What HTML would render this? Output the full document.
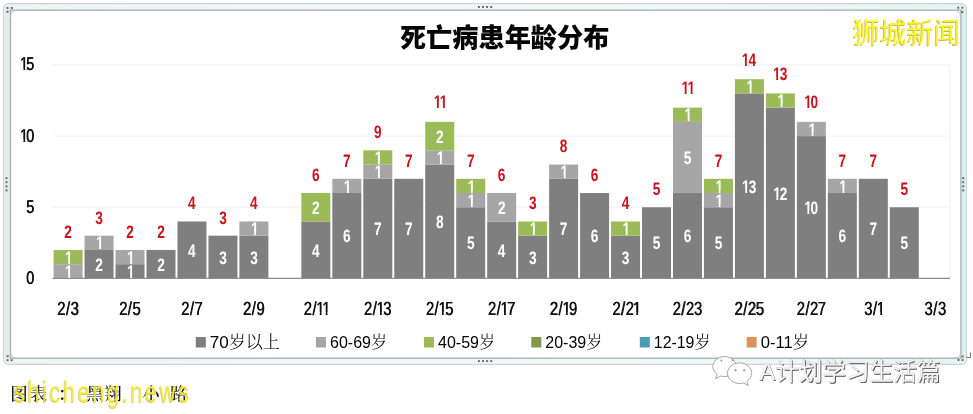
<!DOCTYPE html>
<html lang="zh"><head><meta charset="utf-8"><title>死亡病患年龄分布</title>
<style>
html,body{margin:0;padding:0;background:#fff;}
body{width:973px;height:414px;overflow:hidden;position:relative;font-family:"Liberation Sans","Noto Sans CJK SC",sans-serif;}
svg{position:absolute;left:0;top:0;display:block;}
svg text{font-family:"Liberation Sans","Noto Sans CJK SC",sans-serif;}
svg .n{text-rendering:geometricPrecision;}
svg .kai{font-family:"Liberation Serif","Noto Serif CJK SC",serif;font-weight:500;}
svg .lg{font-family:"Liberation Serif","Noto Serif CJK SC",serif;font-weight:300;}
</style></head><body>
<svg width="973" height="414" viewBox="0 0 973 414">
<defs>
<clipPath id="k1_18mb"><path clip-rule="evenodd" d="M-60 -30H60V12H-60ZM-4.31 -2.74H0.25V1.44H-4.31ZM2.72 -2.74H6.49V1.44H2.72Z"/></clipPath>
<clipPath id="k11_18mb"><path clip-rule="evenodd" d="M-60 -30H60V12H-60ZM-8.28 -2.74H-3.72V1.44H-8.28ZM-1.25 -2.74H-0.34V1.44H-1.25ZM-0.34 -2.74H4.22V1.44H-0.34ZM6.69 -2.74H10.46V1.44H6.69Z"/></clipPath>
<clipPath id="k13_18mb"><path clip-rule="evenodd" d="M-60 -30H60V12H-60ZM-10.02 -2.74H-5.46V1.44H-10.02ZM-2.99 -2.74H-0.39V1.44H-2.99Z"/></clipPath>
<clipPath id="k14_18mb"><path clip-rule="evenodd" d="M-60 -30H60V12H-60ZM-10.38 -2.74H-5.81V1.44H-10.38ZM-3.34 -2.74H-0.84V1.44H-3.34Z"/></clipPath>
<clipPath id="k12_18mb"><path clip-rule="evenodd" d="M-60 -30H60V12H-60ZM-9.88 -2.74H-5.32V1.44H-9.88ZM-2.85 -2.74H-0.35V1.44H-2.85Z"/></clipPath>
<clipPath id="k10_18mb"><path clip-rule="evenodd" d="M-60 -30H60V12H-60ZM-9.83 -2.74H-5.27V1.44H-9.83ZM-2.80 -2.74H0.14V1.44H-2.80Z"/></clipPath>
<clipPath id="k10_18p5er"><path clip-rule="evenodd" d="M-60 -30H60V12H-60ZM-17.92 -2.31H-12.90V1.48H-17.92ZM-11.26 -2.31H-8.14V1.48H-11.26Z"/></clipPath>
<clipPath id="k15_18p5er"><path clip-rule="evenodd" d="M-60 -30H60V12H-60ZM-17.84 -2.31H-12.82V1.48H-17.84ZM-11.19 -2.31H-8.60V1.48H-11.19Z"/></clipPath>
<clipPath id="k2s11_19mr"><path clip-rule="evenodd" d="M-60 -30H60V12H-60ZM0.18 -2.37H5.34V1.52H0.18ZM7.02 -2.37H7.76V1.52H7.02ZM7.76 -2.37H12.92V1.52H7.76ZM14.60 -2.37H19.16V1.52H14.60Z"/></clipPath>
<clipPath id="k2s13_19mr"><path clip-rule="evenodd" d="M-60 -30H60V12H-60ZM-2.00 -2.37H3.16V1.52H-2.00ZM4.84 -2.37H8.02V1.52H4.84Z"/></clipPath>
<clipPath id="k2s15_19mr"><path clip-rule="evenodd" d="M-60 -30H60V12H-60ZM-2.00 -2.37H3.16V1.52H-2.00ZM4.84 -2.37H7.94V1.52H4.84Z"/></clipPath>
<clipPath id="k2s17_19mr"><path clip-rule="evenodd" d="M-60 -30H60V12H-60ZM-1.82 -2.37H3.34V1.52H-1.82ZM5.02 -2.37H9.58V1.52H5.02Z"/></clipPath>
<clipPath id="k2s19_19mr"><path clip-rule="evenodd" d="M-60 -30H60V12H-60ZM-1.88 -2.37H3.27V1.52H-1.88ZM4.95 -2.37H8.23V1.52H4.95Z"/></clipPath>
<clipPath id="k2s21_19mr"><path clip-rule="evenodd" d="M-60 -30H60V12H-60ZM9.80 -2.37H14.16V1.52H9.80ZM15.83 -2.37H20.40V1.52H15.83Z"/></clipPath>
<clipPath id="k3s1_19mr"><path clip-rule="evenodd" d="M-60 -30H60V12H-60ZM4.14 -2.37H9.30V1.52H4.14ZM10.98 -2.37H15.54V1.52H10.98Z"/></clipPath>
<linearGradient id="band" x1="0" x2="1" y1="0" y2="0">
<stop offset="0" stop-color="#eef3f3"/><stop offset="0.5" stop-color="#f4f8f8"/><stop offset="0.8" stop-color="#edf7f6"/><stop offset="1" stop-color="#e2f4f3"/>
</linearGradient>
</defs>
<rect width="973" height="414" fill="#ffffff"/>
<!-- frame -->
<rect x="3.5" y="3.7" width="963" height="360.6" rx="5" ry="5" fill="url(#band)" stroke="#cbd6d7" stroke-width="1.2"/>
<rect x="4.2" y="9" width="6" height="350" fill="#e3ebeb"/>
<rect x="961" y="9" width="5" height="350" fill="#d8f0ef"/>
<rect x="10.5" y="10.2" width="950.4" height="348" fill="#ffffff" stroke="#a6adae" stroke-width="1.3"/>
<path d="M10.5 17 Q11 10.7 17 10.2 M954 10.2 Q960.4 10.7 960.9 17 M960.9 351.5 Q960.4 357.7 954 358.2 M17 358.2 Q11 357.7 10.5 351.5" fill="none" stroke="#c2c9ca" stroke-width="1"/>
<path d="M970.5 352.5 V357.5 H966.5" fill="none" stroke="#777" stroke-width="1"/>
<!-- title -->
<text x="504.7" y="47" text-anchor="middle" font-size="26.2" font-weight="900" fill="#050505">死亡病患年龄分布</text>
<line x1="52.6" x2="950" y1="207.2" y2="207.2" stroke="#f1f1f1" stroke-width="1"/>
<line x1="52.6" x2="950" y1="136.1" y2="136.1" stroke="#f1f1f1" stroke-width="1"/>
<line x1="52.6" x2="950" y1="64.9" y2="64.9" stroke="#f1f1f1" stroke-width="1"/>
<line x1="950" x2="950" y1="64.9" y2="278.4" stroke="#f1f1f1" stroke-width="1"/>
<rect x="53.59" y="264.17" width="29.0" height="14.23" fill="#a6a6a6"/>
<rect x="53.59" y="249.94" width="29.0" height="14.23" fill="#9bbb59"/>
<rect x="84.55" y="249.94" width="29.0" height="28.46" fill="#7f7f7f"/>
<rect x="84.55" y="235.71" width="29.0" height="14.23" fill="#a6a6a6"/>
<rect x="115.52" y="264.17" width="29.0" height="14.23" fill="#7f7f7f"/>
<rect x="115.52" y="249.94" width="29.0" height="14.23" fill="#a6a6a6"/>
<rect x="146.50" y="249.94" width="29.0" height="28.46" fill="#7f7f7f"/>
<rect x="177.46" y="221.48" width="29.0" height="56.92" fill="#7f7f7f"/>
<rect x="208.44" y="235.71" width="29.0" height="42.69" fill="#7f7f7f"/>
<rect x="239.40" y="235.71" width="29.0" height="42.69" fill="#7f7f7f"/>
<rect x="239.40" y="221.48" width="29.0" height="14.23" fill="#a6a6a6"/>
<rect x="301.35" y="221.48" width="29.0" height="56.92" fill="#7f7f7f"/>
<rect x="301.35" y="193.02" width="29.0" height="28.46" fill="#9bbb59"/>
<rect x="332.32" y="193.02" width="29.0" height="85.38" fill="#7f7f7f"/>
<rect x="332.32" y="178.79" width="29.0" height="14.23" fill="#a6a6a6"/>
<rect x="363.29" y="178.79" width="29.0" height="99.61" fill="#7f7f7f"/>
<rect x="363.29" y="164.56" width="29.0" height="14.23" fill="#a6a6a6"/>
<rect x="363.29" y="150.33" width="29.0" height="14.23" fill="#9bbb59"/>
<rect x="394.25" y="178.79" width="29.0" height="99.61" fill="#7f7f7f"/>
<rect x="425.23" y="164.56" width="29.0" height="113.84" fill="#7f7f7f"/>
<rect x="425.23" y="150.33" width="29.0" height="14.23" fill="#a6a6a6"/>
<rect x="425.23" y="121.87" width="29.0" height="28.46" fill="#9bbb59"/>
<rect x="456.20" y="207.25" width="29.0" height="71.15" fill="#7f7f7f"/>
<rect x="456.20" y="193.02" width="29.0" height="14.23" fill="#a6a6a6"/>
<rect x="456.20" y="178.79" width="29.0" height="14.23" fill="#9bbb59"/>
<rect x="487.17" y="221.48" width="29.0" height="56.92" fill="#7f7f7f"/>
<rect x="487.17" y="193.02" width="29.0" height="28.46" fill="#a6a6a6"/>
<rect x="518.13" y="235.71" width="29.0" height="42.69" fill="#7f7f7f"/>
<rect x="518.13" y="221.48" width="29.0" height="14.23" fill="#9bbb59"/>
<rect x="549.11" y="178.79" width="29.0" height="99.61" fill="#7f7f7f"/>
<rect x="549.11" y="164.56" width="29.0" height="14.23" fill="#a6a6a6"/>
<rect x="580.08" y="193.02" width="29.0" height="85.38" fill="#7f7f7f"/>
<rect x="611.05" y="235.71" width="29.0" height="42.69" fill="#7f7f7f"/>
<rect x="611.05" y="221.48" width="29.0" height="14.23" fill="#9bbb59"/>
<rect x="642.01" y="207.25" width="29.0" height="71.15" fill="#7f7f7f"/>
<rect x="672.99" y="193.02" width="29.0" height="85.38" fill="#7f7f7f"/>
<rect x="672.99" y="121.87" width="29.0" height="71.15" fill="#a6a6a6"/>
<rect x="672.99" y="107.64" width="29.0" height="14.23" fill="#9bbb59"/>
<rect x="703.96" y="207.25" width="29.0" height="71.15" fill="#7f7f7f"/>
<rect x="703.96" y="193.02" width="29.0" height="14.23" fill="#a6a6a6"/>
<rect x="703.96" y="178.79" width="29.0" height="14.23" fill="#9bbb59"/>
<rect x="734.92" y="93.41" width="29.0" height="184.99" fill="#7f7f7f"/>
<rect x="734.92" y="79.18" width="29.0" height="14.23" fill="#9bbb59"/>
<rect x="765.89" y="107.64" width="29.0" height="170.76" fill="#7f7f7f"/>
<rect x="765.89" y="93.41" width="29.0" height="14.23" fill="#9bbb59"/>
<rect x="796.87" y="136.10" width="29.0" height="142.30" fill="#7f7f7f"/>
<rect x="796.87" y="121.87" width="29.0" height="14.23" fill="#a6a6a6"/>
<rect x="827.84" y="193.02" width="29.0" height="85.38" fill="#7f7f7f"/>
<rect x="827.84" y="178.79" width="29.0" height="14.23" fill="#a6a6a6"/>
<rect x="858.81" y="178.79" width="29.0" height="99.61" fill="#7f7f7f"/>
<rect x="889.77" y="207.25" width="29.0" height="71.15" fill="#7f7f7f"/>
<line x1="52.6" x2="950" y1="278.29999999999995" y2="278.29999999999995" stroke="#8c8c8c" stroke-width="1.3"/>
<text class="n" transform="translate(68.09 277.88) scale(0.76 1)" x="-3.95" font-size="18" font-weight="bold" fill="#ffffff" clip-path="url(#k1_18mb)">1</text>
<text class="n" transform="translate(68.09 263.65) scale(0.76 1)" x="-3.95" font-size="18" font-weight="bold" fill="#ffffff" clip-path="url(#k1_18mb)">1</text>
<text class="n" transform="translate(99.05 270.77) scale(0.76 1)" x="-4.95" font-size="18" font-weight="bold" fill="#ffffff">2</text>
<text class="n" transform="translate(99.05 249.42) scale(0.76 1)" x="-3.95" font-size="18" font-weight="bold" fill="#ffffff" clip-path="url(#k1_18mb)">1</text>
<text class="n" transform="translate(130.02 277.88) scale(0.76 1)" x="-3.95" font-size="18" font-weight="bold" fill="#ffffff" clip-path="url(#k1_18mb)">1</text>
<text class="n" transform="translate(130.02 263.65) scale(0.76 1)" x="-3.95" font-size="18" font-weight="bold" fill="#ffffff" clip-path="url(#k1_18mb)">1</text>
<text class="n" transform="translate(161.00 270.77) scale(0.76 1)" x="-4.95" font-size="18" font-weight="bold" fill="#ffffff">2</text>
<text class="n" transform="translate(191.96 256.54) scale(0.76 1)" x="-5.08" font-size="18" font-weight="bold" fill="#ffffff">4</text>
<text class="n" transform="translate(222.94 263.65) scale(0.76 1)" x="-4.88" font-size="18" font-weight="bold" fill="#ffffff">3</text>
<text class="n" transform="translate(253.90 263.65) scale(0.76 1)" x="-4.88" font-size="18" font-weight="bold" fill="#ffffff">3</text>
<text class="n" transform="translate(253.90 235.19) scale(0.76 1)" x="-3.95" font-size="18" font-weight="bold" fill="#ffffff" clip-path="url(#k1_18mb)">1</text>
<text class="n" transform="translate(315.85 256.54) scale(0.76 1)" x="-5.08" font-size="18" font-weight="bold" fill="#ffffff">4</text>
<text class="n" transform="translate(315.85 213.85) scale(0.76 1)" x="-4.95" font-size="18" font-weight="bold" fill="#ffffff">2</text>
<text class="n" transform="translate(346.82 242.31) scale(0.76 1)" x="-5.00" font-size="18" font-weight="bold" fill="#ffffff">6</text>
<text class="n" transform="translate(346.82 192.50) scale(0.76 1)" x="-3.95" font-size="18" font-weight="bold" fill="#ffffff" clip-path="url(#k1_18mb)">1</text>
<text class="n" transform="translate(377.79 235.19) scale(0.76 1)" x="-4.99" font-size="18" font-weight="bold" fill="#ffffff">7</text>
<text class="n" transform="translate(377.79 178.27) scale(0.76 1)" x="-3.95" font-size="18" font-weight="bold" fill="#ffffff" clip-path="url(#k1_18mb)">1</text>
<text class="n" transform="translate(377.79 164.04) scale(0.76 1)" x="-3.95" font-size="18" font-weight="bold" fill="#ffffff" clip-path="url(#k1_18mb)">1</text>
<text class="n" transform="translate(408.75 235.19) scale(0.76 1)" x="-4.99" font-size="18" font-weight="bold" fill="#ffffff">7</text>
<text class="n" transform="translate(439.73 228.08) scale(0.76 1)" x="-5.00" font-size="18" font-weight="bold" fill="#ffffff">8</text>
<text class="n" transform="translate(439.73 164.04) scale(0.76 1)" x="-3.95" font-size="18" font-weight="bold" fill="#ffffff" clip-path="url(#k1_18mb)">1</text>
<text class="n" transform="translate(439.73 142.70) scale(0.76 1)" x="-4.95" font-size="18" font-weight="bold" fill="#ffffff">2</text>
<text class="n" transform="translate(470.70 249.42) scale(0.76 1)" x="-5.02" font-size="18" font-weight="bold" fill="#ffffff">5</text>
<text class="n" transform="translate(470.70 206.73) scale(0.76 1)" x="-3.95" font-size="18" font-weight="bold" fill="#ffffff" clip-path="url(#k1_18mb)">1</text>
<text class="n" transform="translate(470.70 192.50) scale(0.76 1)" x="-3.95" font-size="18" font-weight="bold" fill="#ffffff" clip-path="url(#k1_18mb)">1</text>
<text class="n" transform="translate(501.67 256.54) scale(0.76 1)" x="-5.08" font-size="18" font-weight="bold" fill="#ffffff">4</text>
<text class="n" transform="translate(501.67 213.85) scale(0.76 1)" x="-4.95" font-size="18" font-weight="bold" fill="#ffffff">2</text>
<text class="n" transform="translate(532.63 263.65) scale(0.76 1)" x="-4.88" font-size="18" font-weight="bold" fill="#ffffff">3</text>
<text class="n" transform="translate(532.63 235.19) scale(0.76 1)" x="-3.95" font-size="18" font-weight="bold" fill="#ffffff" clip-path="url(#k1_18mb)">1</text>
<text class="n" transform="translate(563.61 235.19) scale(0.76 1)" x="-4.99" font-size="18" font-weight="bold" fill="#ffffff">7</text>
<text class="n" transform="translate(563.61 178.27) scale(0.76 1)" x="-3.95" font-size="18" font-weight="bold" fill="#ffffff" clip-path="url(#k1_18mb)">1</text>
<text class="n" transform="translate(594.58 242.31) scale(0.76 1)" x="-5.00" font-size="18" font-weight="bold" fill="#ffffff">6</text>
<text class="n" transform="translate(625.55 263.65) scale(0.76 1)" x="-4.88" font-size="18" font-weight="bold" fill="#ffffff">3</text>
<text class="n" transform="translate(625.55 235.19) scale(0.76 1)" x="-3.95" font-size="18" font-weight="bold" fill="#ffffff" clip-path="url(#k1_18mb)">1</text>
<text class="n" transform="translate(656.51 249.42) scale(0.76 1)" x="-5.02" font-size="18" font-weight="bold" fill="#ffffff">5</text>
<text class="n" transform="translate(687.49 242.31) scale(0.76 1)" x="-5.00" font-size="18" font-weight="bold" fill="#ffffff">6</text>
<text class="n" transform="translate(687.49 164.04) scale(0.76 1)" x="-5.02" font-size="18" font-weight="bold" fill="#ffffff">5</text>
<text class="n" transform="translate(687.49 121.35) scale(0.76 1)" x="-3.95" font-size="18" font-weight="bold" fill="#ffffff" clip-path="url(#k1_18mb)">1</text>
<text class="n" transform="translate(718.46 249.42) scale(0.76 1)" x="-5.02" font-size="18" font-weight="bold" fill="#ffffff">5</text>
<text class="n" transform="translate(718.46 206.73) scale(0.76 1)" x="-3.95" font-size="18" font-weight="bold" fill="#ffffff" clip-path="url(#k1_18mb)">1</text>
<text class="n" transform="translate(718.46 192.50) scale(0.76 1)" x="-3.95" font-size="18" font-weight="bold" fill="#ffffff" clip-path="url(#k1_18mb)">1</text>
<text class="n" transform="translate(749.42 192.50) scale(0.76 1)" x="-9.66 -0.91" font-size="18" font-weight="bold" fill="#ffffff" clip-path="url(#k13_18mb)">13</text>
<text class="n" transform="translate(749.42 92.89) scale(0.76 1)" x="-3.95" font-size="18" font-weight="bold" fill="#ffffff" clip-path="url(#k1_18mb)">1</text>
<text class="n" transform="translate(780.39 199.62) scale(0.76 1)" x="-9.52 -0.98" font-size="18" font-weight="bold" fill="#ffffff" clip-path="url(#k12_18mb)">12</text>
<text class="n" transform="translate(780.39 107.12) scale(0.76 1)" x="-3.95" font-size="18" font-weight="bold" fill="#ffffff" clip-path="url(#k1_18mb)">1</text>
<text class="n" transform="translate(811.37 213.85) scale(0.76 1)" x="-9.47 -1.02" font-size="18" font-weight="bold" fill="#ffffff" clip-path="url(#k10_18mb)">10</text>
<text class="n" transform="translate(811.37 135.58) scale(0.76 1)" x="-3.95" font-size="18" font-weight="bold" fill="#ffffff" clip-path="url(#k1_18mb)">1</text>
<text class="n" transform="translate(842.34 242.31) scale(0.76 1)" x="-5.00" font-size="18" font-weight="bold" fill="#ffffff">6</text>
<text class="n" transform="translate(842.34 192.50) scale(0.76 1)" x="-3.95" font-size="18" font-weight="bold" fill="#ffffff" clip-path="url(#k1_18mb)">1</text>
<text class="n" transform="translate(873.31 235.19) scale(0.76 1)" x="-4.99" font-size="18" font-weight="bold" fill="#ffffff">7</text>
<text class="n" transform="translate(904.27 249.42) scale(0.76 1)" x="-5.02" font-size="18" font-weight="bold" fill="#ffffff">5</text>
<text class="n" transform="translate(68.09 237.74) scale(0.76 1)" x="-4.95" font-size="18" font-weight="bold" fill="#c8141e">2</text>
<text class="n" transform="translate(99.05 223.51) scale(0.76 1)" x="-4.88" font-size="18" font-weight="bold" fill="#c8141e">3</text>
<text class="n" transform="translate(130.02 237.74) scale(0.76 1)" x="-4.95" font-size="18" font-weight="bold" fill="#c8141e">2</text>
<text class="n" transform="translate(161.00 237.74) scale(0.76 1)" x="-4.95" font-size="18" font-weight="bold" fill="#c8141e">2</text>
<text class="n" transform="translate(191.96 209.28) scale(0.76 1)" x="-5.08" font-size="18" font-weight="bold" fill="#c8141e">4</text>
<text class="n" transform="translate(222.94 223.51) scale(0.76 1)" x="-4.88" font-size="18" font-weight="bold" fill="#c8141e">3</text>
<text class="n" transform="translate(253.90 209.28) scale(0.76 1)" x="-5.08" font-size="18" font-weight="bold" fill="#c8141e">4</text>
<text class="n" transform="translate(315.85 180.82) scale(0.76 1)" x="-5.00" font-size="18" font-weight="bold" fill="#c8141e">6</text>
<text class="n" transform="translate(346.82 166.59) scale(0.76 1)" x="-4.99" font-size="18" font-weight="bold" fill="#c8141e">7</text>
<text class="n" transform="translate(377.79 138.13) scale(0.76 1)" x="-4.98" font-size="18" font-weight="bold" fill="#c8141e">9</text>
<text class="n" transform="translate(408.75 166.59) scale(0.76 1)" x="-4.99" font-size="18" font-weight="bold" fill="#c8141e">7</text>
<text class="n" transform="translate(439.73 108.37) scale(0.76 1)" x="-7.92 0.02" font-size="18" font-weight="bold" fill="#c8141e" clip-path="url(#k11_18mb)">11</text>
<text class="n" transform="translate(470.70 166.59) scale(0.76 1)" x="-4.99" font-size="18" font-weight="bold" fill="#c8141e">7</text>
<text class="n" transform="translate(501.67 180.82) scale(0.76 1)" x="-5.00" font-size="18" font-weight="bold" fill="#c8141e">6</text>
<text class="n" transform="translate(532.63 209.28) scale(0.76 1)" x="-4.88" font-size="18" font-weight="bold" fill="#c8141e">3</text>
<text class="n" transform="translate(563.61 152.36) scale(0.76 1)" x="-5.00" font-size="18" font-weight="bold" fill="#c8141e">8</text>
<text class="n" transform="translate(594.58 180.82) scale(0.76 1)" x="-5.00" font-size="18" font-weight="bold" fill="#c8141e">6</text>
<text class="n" transform="translate(625.55 209.28) scale(0.76 1)" x="-5.08" font-size="18" font-weight="bold" fill="#c8141e">4</text>
<text class="n" transform="translate(656.51 195.05) scale(0.76 1)" x="-5.02" font-size="18" font-weight="bold" fill="#c8141e">5</text>
<text class="n" transform="translate(687.49 94.14) scale(0.76 1)" x="-7.92 0.02" font-size="18" font-weight="bold" fill="#c8141e" clip-path="url(#k11_18mb)">11</text>
<text class="n" transform="translate(718.46 166.59) scale(0.76 1)" x="-4.99" font-size="18" font-weight="bold" fill="#c8141e">7</text>
<text class="n" transform="translate(749.42 65.68) scale(0.76 1)" x="-10.02 -1.11" font-size="18" font-weight="bold" fill="#c8141e" clip-path="url(#k14_18mb)">14</text>
<text class="n" transform="translate(780.39 79.91) scale(0.76 1)" x="-9.66 -0.91" font-size="18" font-weight="bold" fill="#c8141e" clip-path="url(#k13_18mb)">13</text>
<text class="n" transform="translate(811.37 108.37) scale(0.76 1)" x="-9.47 -1.02" font-size="18" font-weight="bold" fill="#c8141e" clip-path="url(#k10_18mb)">10</text>
<text class="n" transform="translate(842.34 166.59) scale(0.76 1)" x="-4.99" font-size="18" font-weight="bold" fill="#c8141e">7</text>
<text class="n" transform="translate(873.31 166.59) scale(0.76 1)" x="-4.99" font-size="18" font-weight="bold" fill="#c8141e">7</text>
<text class="n" transform="translate(904.27 195.05) scale(0.76 1)" x="-5.02" font-size="18" font-weight="bold" fill="#c8141e">5</text>
<g id="gb">
<text class="n" transform="translate(33.45 283.80) scale(0.78 1)" x="-9.55" font-size="18.5" fill="#111111">0</text>
<text class="n" transform="translate(33.45 212.65) scale(0.78 1)" x="-9.49" font-size="18.5" fill="#111111">5</text>
<text class="n" transform="translate(33.45 141.50) scale(0.78 1)" x="-17.55 -9.55" font-size="18.5" fill="#111111" clip-path="url(#k10_18p5er)">10</text>
<text class="n" transform="translate(33.45 70.35) scale(0.78 1)" x="-17.47 -9.49" font-size="18.5" fill="#111111" clip-path="url(#k15_18p5er)">15</text>
<text class="n" transform="translate(67.81 314.60) scale(0.78 1)" x="-13.94 -2.80 3.28" font-size="19" fill="#111111">2/3</text>
<text class="n" transform="translate(129.75 314.60) scale(0.78 1)" x="-13.94 -2.80 3.24" font-size="19" fill="#111111">2/5</text>
<text class="n" transform="translate(191.69 314.60) scale(0.78 1)" x="-13.76 -2.62 3.21" font-size="19" fill="#111111">2/7</text>
<text class="n" transform="translate(253.63 314.60) scale(0.78 1)" x="-13.82 -2.69 3.22" font-size="19" fill="#111111">2/9</text>
<text class="n" transform="translate(315.57 314.60) scale(0.78 1)" x="-15.55 -4.41 0.56 8.14" font-size="19" fill="#111111" clip-path="url(#k2s11_19mr)">2/11</text>
<text class="n" transform="translate(377.51 314.60) scale(0.78 1)" x="-17.73 -6.59 -1.62 7.07" font-size="19" fill="#111111" clip-path="url(#k2s13_19mr)">2/13</text>
<text class="n" transform="translate(439.45 314.60) scale(0.78 1)" x="-17.73 -6.59 -1.62 7.03" font-size="19" fill="#111111" clip-path="url(#k2s15_19mr)">2/15</text>
<text class="n" transform="translate(501.39 314.60) scale(0.78 1)" x="-17.54 -6.41 -1.44 7.00" font-size="19" fill="#111111" clip-path="url(#k2s17_19mr)">2/17</text>
<text class="n" transform="translate(563.33 314.60) scale(0.78 1)" x="-17.61 -6.48 -1.50 7.01" font-size="19" fill="#111111" clip-path="url(#k2s19_19mr)">2/19</text>
<text class="n" transform="translate(625.27 314.60) scale(0.78 1)" x="-16.78 -5.65 0.20 9.38" font-size="19" fill="#111111" clip-path="url(#k2s21_19mr)">2/21</text>
<text class="n" transform="translate(687.21 314.60) scale(0.78 1)" x="-18.96 -7.83 -1.98 8.30" font-size="19" fill="#111111">2/23</text>
<text class="n" transform="translate(749.15 314.60) scale(0.78 1)" x="-18.96 -7.83 -1.98 8.27" font-size="19" fill="#111111">2/25</text>
<text class="n" transform="translate(811.09 314.60) scale(0.78 1)" x="-18.78 -7.65 -1.80 8.24" font-size="19" fill="#111111">2/27</text>
<text class="n" transform="translate(873.03 314.60) scale(0.78 1)" x="-11.70 -0.45 4.52" font-size="19" fill="#111111" clip-path="url(#k3s1_19mr)">3/1</text>
<text class="n" transform="translate(934.97 314.60) scale(0.78 1)" x="-13.88 -2.63 3.45" font-size="19" fill="#111111">3/3</text>
</g>
<use href="#gb" x="0.55" y="0"/>
<rect x="195.8" y="337" width="10" height="10.5" fill="#7f7f7f"/>
<text x="209.8" y="348" font-size="16.5" fill="#000" textLength="70" lengthAdjust="spacingAndGlyphs">70<tspan class="lg">岁以上</tspan></text>
<rect x="316" y="337" width="10" height="10.5" fill="#a6a6a6"/>
<text x="330" y="348" font-size="16.5" fill="#000" textLength="57" lengthAdjust="spacingAndGlyphs">60-69<tspan class="lg">岁</tspan></text>
<rect x="424" y="337" width="10" height="10.5" fill="#9bbb59"/>
<text x="438" y="348" font-size="16.5" fill="#000" textLength="57" lengthAdjust="spacingAndGlyphs">40-59<tspan class="lg">岁</tspan></text>
<rect x="531.3" y="337" width="10" height="10.5" fill="#82964c"/>
<text x="545.3" y="348" font-size="16.5" fill="#000" textLength="57" lengthAdjust="spacingAndGlyphs">20-39<tspan class="lg">岁</tspan></text>
<rect x="639.8" y="337" width="10" height="10.5" fill="#4a9cb3"/>
<text x="653.8" y="348" font-size="16.5" fill="#000" textLength="56.5" lengthAdjust="spacingAndGlyphs">12-19<tspan class="lg">岁</tspan></text>
<rect x="746.7" y="337" width="10" height="10.5" fill="#d99559"/>
<text x="760.7" y="348" font-size="16.5" fill="#000" textLength="48.5" lengthAdjust="spacingAndGlyphs">0-11<tspan class="lg">岁</tspan></text>
<rect x="477.9" y="6.0" width="2" height="2" fill="#6a6f70"/>
<rect x="477.9" y="360.1" width="2" height="2" fill="#6a6f70"/>
<rect x="5.5" y="177.1" width="2" height="2" fill="#6a6f70"/>
<rect x="962.2" y="177.1" width="2" height="2" fill="#6a6f70"/>
<rect x="482.0" y="6.0" width="2" height="2" fill="#6a6f70"/>
<rect x="482.0" y="360.1" width="2" height="2" fill="#6a6f70"/>
<rect x="5.5" y="181.2" width="2" height="2" fill="#6a6f70"/>
<rect x="962.2" y="181.2" width="2" height="2" fill="#6a6f70"/>
<rect x="486.1" y="6.0" width="2" height="2" fill="#6a6f70"/>
<rect x="486.1" y="360.1" width="2" height="2" fill="#6a6f70"/>
<rect x="5.5" y="185.3" width="2" height="2" fill="#6a6f70"/>
<rect x="962.2" y="185.3" width="2" height="2" fill="#6a6f70"/>
<rect x="490.2" y="6.0" width="2" height="2" fill="#6a6f70"/>
<rect x="490.2" y="360.1" width="2" height="2" fill="#6a6f70"/>
<rect x="5.5" y="189.4" width="2" height="2" fill="#6a6f70"/>
<rect x="962.2" y="189.4" width="2" height="2" fill="#6a6f70"/>
<rect x="6.5" y="7.0" width="2" height="2" fill="#6a6f70"/>
<rect x="10.8" y="7.0" width="2" height="2" fill="#6a6f70"/>
<rect x="6.5" y="10.8" width="2" height="2" fill="#6a6f70"/>
<rect x="957.2" y="6.7" width="2" height="2" fill="#6a6f70"/>
<rect x="961.3" y="6.7" width="2" height="2" fill="#6a6f70"/>
<rect x="961.3" y="11.1" width="2" height="2" fill="#6a6f70"/>
<rect x="6.6" y="355.2" width="2" height="2" fill="#6a6f70"/>
<rect x="6.6" y="359.2" width="2" height="2" fill="#6a6f70"/>
<rect x="10.6" y="359.2" width="2" height="2" fill="#6a6f70"/>
<rect x="961.6" y="355.5" width="2" height="2" fill="#6a6f70"/>
<rect x="957.5" y="359.0" width="2" height="2" fill="#6a6f70"/>
<rect x="961.6" y="359.0" width="2" height="2" fill="#6a6f70"/>
<!-- watermarks -->
<g font-size="28" font-weight="400">
<text transform="translate(851.9 43.5) scale(0.962 1)" fill="#c6be3e">狮城新闻</text>
<text transform="translate(852.8 42.6) scale(0.962 1)" fill="#fbf236">狮城新闻</text>
</g>
<text y="400.3" font-size="17.5" fill="#0a0a0a" class="kai"><tspan x="10.3">图</tspan><tspan x="29.8">表</tspan><tspan x="58">：</tspan><tspan x="86.3">黑</tspan><tspan x="104.3">翔</tspan><tspan x="142.3">小</tspan><tspan x="170">路</tspan></text>
<g font-size="29.5" letter-spacing="3.2">
<text transform="translate(13.4 402.9) scale(0.75 1)" fill="#c2bb40" opacity="0.7">shicheng.news</text>
<text transform="translate(14.1 402.1) scale(0.75 1)" fill="#f8f03c" opacity="0.85">shicheng.news</text>
</g>
<!-- wechat icon -->
<g fill="#ffffff" stroke="#9c9c9c" stroke-width="0.9">
<path d="M724.6 356.6c-6.500 0-11.700 4.400-11.700 9.900 0 3.100 1.700 5.900 4.400 7.700l-1.700 4.400 5.200-2.600c1.200.3 2.500.5 3.800.5 6.500 0 11.700-4.500 11.700-10s-5.200-9.900-11.700-9.900z"/>
<path d="M739.6 362.900c-6.700 0-12.100 4.600-12.100 10.300s5.400 10.300 12.100 10.300c1.400 0 2.700-.2 3.900-.5l4.900 2.600-1.500-4.200c2.900-1.900 4.800-4.800 4.800-8.200 0-5.700-5.400-10.300-12.100-10.300z"/>
</g>
<g fill="#8a8a8a"><circle cx="721.300" cy="360.400" r="0.900"/><circle cx="732.700" cy="360.200" r="0.900"/><circle cx="735.500" cy="370.200" r="1"/><circle cx="744.100" cy="370.200" r="1"/></g>
<g font-size="23.500">
<text x="760.300" y="381.300" fill="#4a4a4a" textLength="181" lengthAdjust="spacingAndGlyphs">A计划学习生活篇</text>
<text x="759.400" y="380.400" fill="#ffffff" stroke="#c4c4c4" stroke-width="0.350" textLength="181" lengthAdjust="spacingAndGlyphs">A计划学习生活篇</text>
</g>
</svg>
</body></html>
